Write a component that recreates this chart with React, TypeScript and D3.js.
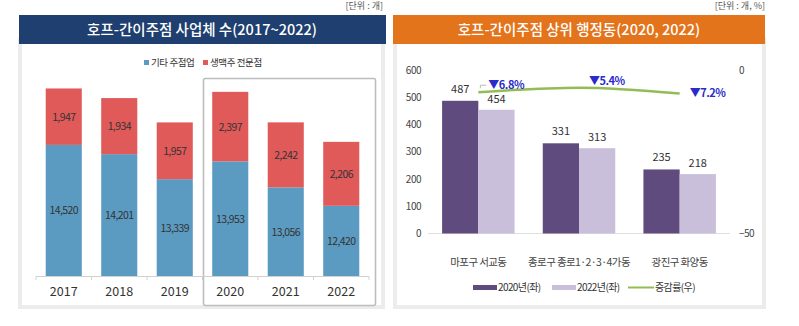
import React from "react";
import * as d3 from "d3";

const years = ["2017", "2018", "2019", "2020", "2021", "2022"];
const otherPubs = [14520, 14201, 13339, 13953, 13056, 12420];
const draftBeer = [1947, 1934, 1957, 2397, 2242, 2206];
const leftLegend = ["기타 주점업", "생맥주 전문점"];

const districts = ["마포구 서교동", "종로구 종로1·2·3·4가동", "광진구 화양동"];
const count2020 = [487, 331, 235];
const count2022 = [454, 313, 218];
const changeRate = [-6.8, -5.4, -7.2];
const leftTicks = [0, 100, 200, 300, 400, 500, 600];
const rightTicks = [0, -50];
const rightLegend = ["2020년(좌)", "2022년(좌)", "증감률(우)"];

const FONT = "'Noto Sans CJK KR', 'Noto Sans', sans-serif";
const BLUE = "#5b9bc1";
const RED = "#e05a5a";
const DARK = "#5f4b7d";
const LIGHT = "#c9bfdb";
const GREEN = "#92bd55";

export default function App() {
  const xL = d3.scaleBand<string>().domain(years).range([36, 369]).paddingInner(0.35).paddingOuter(0.175);
  const yL = d3.scaleLinear().domain([10000, 18000]).range([276, 44]);

  const x0 = d3.scaleBand<string>().domain(districts).range([428, 730]).paddingInner(0.28).paddingOuter(0.14);
  const x1 = d3.scaleBand<string>().domain(["a", "b"]).range([0, x0.bandwidth()]);
  const yR = d3.scaleLinear().domain([0, 600]).range([233.5, 70]);
  const yRate = d3.scaleLinear().domain([-50, 0]).range([233.5, 70]);

  const linePts: [number, number][] = districts.map((d, i) => [
    (x0(d) as number) + x0.bandwidth() / 2,
    yRate(changeRate[i]),
  ]);
  const linePath = d3.line().curve(d3.curveMonotoneX)(linePts) || "";

  const tickBounds = d3.range(years.length + 1).map((i) => 36 + i * xL.step());

  return (
    <div style={{ position: "absolute", left: 0, top: 0 }}>
      <svg width={799} height={326} style={{ display: "block", fontFamily: FONT }}>
        <rect width={799} height={326} fill="#fff" />
        {/* Left panel */}
        <text x={383} y={9} fontSize={9} fill="#555" textAnchor="end">[단위 : 개]</text>
        <rect x={20} y={40} width={363} height={267} fill="#fff" stroke="#ececec" strokeWidth={4} />
        <rect x={19} y={15} width={367} height={29} fill="#1e3f6f" />
        <text x={202} y={34.5} fontSize={14.5} fill="#fff" textAnchor="middle" fontWeight={500}>
          호프-간이주점 사업체 수(2017~2022)
        </text>
        {/* legend */}
        <rect x={144} y={60} width={5} height={5} fill={BLUE} />
        <text x={151} y={66} fontSize={9.5} fill="#333" letterSpacing={-0.4}>{leftLegend[0]}</text>
        <rect x={203} y={60} width={5} height={5} fill={RED} />
        <text x={210} y={66} fontSize={9.5} fill="#333" letterSpacing={-0.4}>{leftLegend[1]}</text>
        {/* highlight box */}
        <rect x={203.5} y={78.5} width={172} height={227} rx={2} fill="none" stroke="#bdbdbd" strokeWidth={1.6} />
        {years.map((yr, i) => {
          const x = xL(yr) as number;
          const w = xL.bandwidth();
          const yBlue = yL(otherPubs[i]);
          const yTop = yL(otherPubs[i] + draftBeer[i]);
          return (
            <g key={yr}>
              <rect x={x} y={yBlue} width={w} height={yL(10000) - yBlue} fill={BLUE} />
              <rect x={x} y={yTop} width={w} height={yBlue - yTop} fill={RED} />
              <text x={x + w / 2} y={(yBlue + yL(10000)) / 2 + 4} fontSize={10.5} fill="#333" textAnchor="middle" letterSpacing={-0.6}>
                {d3.format(",")(otherPubs[i])}
              </text>
              <text x={x + w / 2} y={(yTop + yBlue) / 2 + 4} fontSize={10.5} fill="#333" textAnchor="middle" letterSpacing={-0.6}>
                {d3.format(",")(draftBeer[i])}
              </text>
              <text x={x + w / 2} y={295.5} fontSize={12.5} fill="#333" textAnchor="middle">{yr}</text>
            </g>
          );
        })}
        <line x1={36} x2={369} y1={276.5} y2={276.5} stroke="#d0d0d0" />
        {tickBounds.map((t, i) => (
          <line key={i} x1={t} x2={t} y1={276.5} y2={280} stroke="#d0d0d0" />
        ))}

        {/* Right panel */}
        <text x={765} y={9} fontSize={9} fill="#555" textAnchor="end">[단위 : 개, %]</text>
        <rect x={395} y={40} width={369} height={267} fill="#fff" stroke="#ececec" strokeWidth={4} />
        <rect x={393} y={15} width={372} height={29} fill="#e3741b" />
        <text x={579} y={34.5} fontSize={14.5} fill="#fff" textAnchor="middle" fontWeight={500}>
          호프-간이주점 상위 행정동(2020, 2022)
        </text>
        {leftTicks.map((t) => (
          <text key={t} x={421} y={yR(t) + 3.5} fontSize={10} fill="#444" textAnchor="end" letterSpacing={-0.5}>{t}</text>
        ))}
        {rightTicks.map((t) => (
          <text key={t} x={739} y={yRate(t) + 3.5} fontSize={10} fill="#444" letterSpacing={-0.5}>{t === -50 ? "−50" : t}</text>
        ))}
        <line x1={428} x2={730} y1={233.5} y2={233.5} stroke="#e0e0e0" />
        {districts.map((d, i) => {
          const gx = x0(d) as number;
          const xa = gx + (x1("a") as number);
          const xb = gx + (x1("b") as number);
          const w = x1.bandwidth();
          return (
            <g key={d}>
              <rect x={xa} y={yR(count2020[i])} width={w} height={yR(0) - yR(count2020[i])} fill={DARK} />
              <rect x={xb} y={yR(count2022[i])} width={w} height={yR(0) - yR(count2022[i])} fill={LIGHT} />
              <text x={xa + w / 2} y={yR(count2020[i]) - 8} fontSize={11} fill="#333" textAnchor="middle">{count2020[i]}</text>
              <text x={xb + w / 2} y={yR(count2022[i]) - 7} fontSize={11} fill="#333" textAnchor="middle">{count2022[i]}</text>
              <text x={gx + x0.bandwidth() / 2} y={266} fontSize={10.5} fill="#444" textAnchor="middle" letterSpacing={-0.6}>{d}</text>
            </g>
          );
        })}
        <path d={linePath} fill="none" stroke={GREEN} strokeWidth={2.5} />
        <path d={`M${linePts[0][0] + 2},${linePts[0][1] - 4} v-3 h6`} fill="none" stroke="#aaa" strokeWidth={0.8} />
        {linePts.map((p, i) => (
          <text key={i} x={p[0] + 10} y={p[1] - (i < 2 ? 3 : -3)} fontSize={11} fill="#2b2bcc" fontWeight={600} letterSpacing={-0.5}>
            {"▼" + Math.abs(changeRate[i]).toFixed(1) + "%"}
          </text>
        ))}
        {/* right legend */}
        <rect x={473} y={285} width={24} height={5} fill={DARK} />
        <text x={498} y={291} fontSize={10} fill="#333" letterSpacing={-0.6}>{rightLegend[0]}</text>
        <rect x={552} y={285} width={24} height={5} fill={LIGHT} />
        <text x={577} y={291} fontSize={10} fill="#333" letterSpacing={-0.6}>{rightLegend[1]}</text>
        <line x1={628} x2={654} y1={287.5} y2={287.5} stroke={GREEN} strokeWidth={2} />
        <text x={655} y={291} fontSize={10} fill="#333" letterSpacing={-0.6}>{rightLegend[2]}</text>
      </svg>
    </div>
  );
}
